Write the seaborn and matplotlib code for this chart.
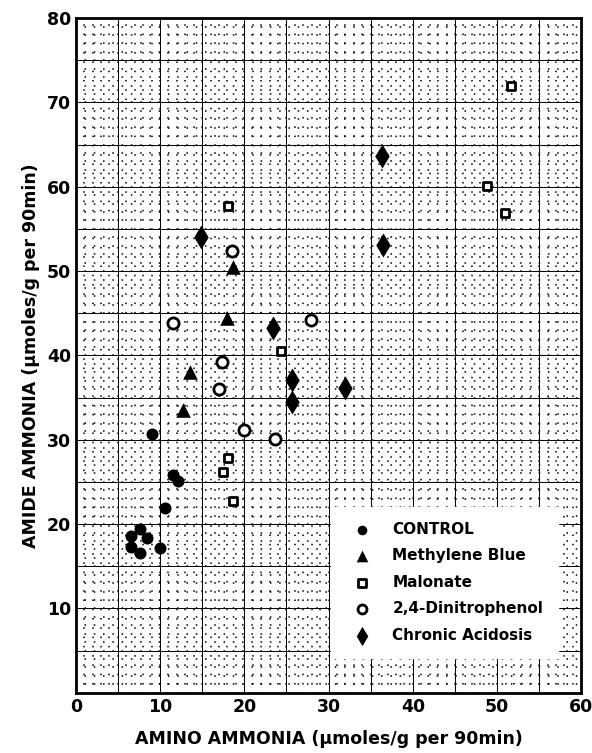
import numpy as np
import pandas as pd
import seaborn as sns
import matplotlib.pyplot as plt
from matplotlib.ticker import MultipleLocator

# values (amino ammonia, amide ammonia)
control_x = [9.1, 11.5, 12.1, 10.6, 7.6, 6.5, 8.5, 6.6, 7.6, 10.0]
control_y = [30.7, 25.8, 25.1, 21.9, 19.4, 18.6, 18.3, 17.3, 16.6, 17.2]

methylene_x = [18.7, 18.0, 13.6, 12.7]
methylene_y = [50.5, 44.4, 38.0, 33.5]

malonate_x = [51.7, 48.8, 50.9, 18.1, 24.4, 18.1, 17.5, 18.6]
malonate_y = [71.9, 60.1, 56.9, 57.7, 40.5, 27.8, 26.2, 22.7]

dnp_x = [18.5, 11.5, 27.9, 17.4, 17.0, 20.0, 23.7]
dnp_y = [52.4, 43.8, 44.2, 39.2, 36.0, 31.2, 30.1]

acidosis_x = [36.3, 36.5, 14.9, 23.4, 25.7, 25.7, 32.0]
acidosis_y = [63.7, 53.1, 54.0, 43.2, 37.1, 34.5, 36.1]

groups = ["CONTROL", "Methylene Blue", "Malonate", "2,4-Dinitrophenol", "Chronic Acidosis"]

frames = []
for name, xs, ys in zip(
    groups,
    [control_x, methylene_x, malonate_x, dnp_x, acidosis_x],
    [control_y, methylene_y, malonate_y, dnp_y, acidosis_y],
):
    frames.append(pd.DataFrame({"amino": xs, "amide": ys, "group": name}))
df = pd.concat(frames, ignore_index=True)

styles = {
    "CONTROL": dict(marker="o", s=75, facecolor="black", linewidth=0),
    "Methylene Blue": dict(marker="^", s=110, facecolor="black", linewidth=0),
    "Malonate": dict(marker="s", s=40, facecolor="white", linewidth=2),
    "2,4-Dinitrophenol": dict(marker="o", s=65, facecolor="white", linewidth=2),
    "Chronic Acidosis": dict(marker="d", s=150, facecolor="black", linewidth=0),
}

sns.set_style("white")
plt.rcParams["font.family"] = ["DejaVu Sans"]
plt.rcParams["text.color"] = "black"
fig, ax = plt.subplots(figsize=(5.92, 7.53), dpi=100)
fig.subplots_adjust(left=0.128, right=0.982, bottom=0.08, top=0.976)

for name in groups:
    st = styles[name]
    sns.scatterplot(
        data=df[df["group"] == name], x="amino", y="amide", ax=ax,
        marker=st["marker"], s=st["s"], color=st["facecolor"],
        edgecolor="black", linewidth=st["linewidth"], label=name, zorder=5,
    )

ax.set_xlim(0, 60)
ax.set_ylim(0, 80)
ax.xaxis.set_major_locator(MultipleLocator(10))
ax.set_yticks([10, 20, 30, 40, 50, 60, 70, 80])

# graph-paper grid: solid every 5, dots at every unit crossing
bbox = ax.get_position()
ux = bbox.width * 5.92 * 72 / 60
uy = bbox.height * 7.53 * 72 / 80
dots_v = (0.5, (1.0, uy - 1.0))
dots_h = (0.5, (1.0, ux - 1.0))
for v in np.arange(5, 60, 5):
    ax.axvline(v, color="black", lw=0.7, zorder=1)
for v in np.arange(5, 80, 5):
    ax.axhline(v, color="black", lw=0.7, zorder=1)
for v in np.arange(1, 60, 1):
    ax.axvline(v, color="black", lw=1.1, ls=dots_v, zorder=0.5)
for v in np.arange(1, 80, 1):
    ax.axhline(v, color="black", lw=1.1, ls=dots_h, zorder=0.5)

for sp in ax.spines.values():
    sp.set_linewidth(2)
    sp.set_color("black")

ax.tick_params(axis="both", labelsize=12.5, width=1.5, length=4, direction="in",
               colors="black")
for lab in ax.get_xticklabels() + ax.get_yticklabels():
    lab.set_fontweight("bold")

ax.set_xlabel("AMINO AMMONIA (\u03bcmoles/g per 90min)", fontsize=12.5, fontweight="bold",
              labelpad=10, color="black")
ax.set_ylabel("AMIDE AMMONIA (\u03bcmoles/g per 90min)", fontsize=12.5, fontweight="bold",
              labelpad=5, color="black")

leg = ax.legend(
    loc="lower left", bbox_to_anchor=(0.49, 0.04), frameon=True, fancybox=False,
    framealpha=1, edgecolor="white", prop={"weight": "bold", "size": 11},
    borderpad=1.0, labelspacing=0.75, handletextpad=1.0, markerscale=0.8,
)
leg.set_zorder(10)

fig.savefig("out.png", dpi=100)
